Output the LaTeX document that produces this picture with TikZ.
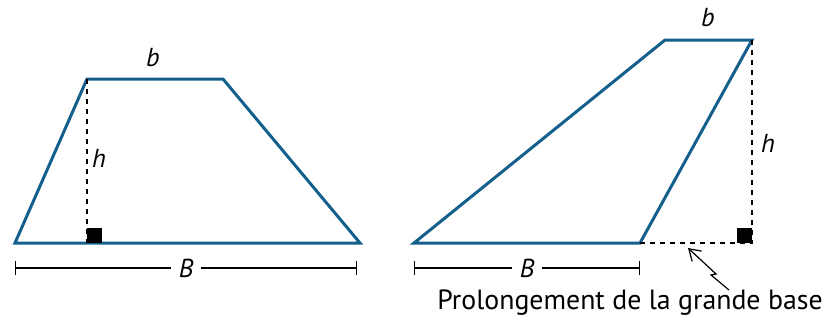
\documentclass[tikz,border=0pt]{standalone}
\usepackage{fontspec}
\setmainfont{PT Sans}
\usetikzlibrary{arrows.meta,positioning}
\definecolor{trapblue}{RGB}{20,95,140}

\begin{document}
\begin{tikzpicture}[
  x=0.5pt, y=-0.5pt,
  font=\fontsize{12.5}{15}\selectfont,
  trap/.style={draw=trapblue, line width=1.5pt, line join=miter},
  haut/.style={dash pattern=on 2.5pt off 2.5pt, line width=0.7pt},
  cote/.style={{Bar[width=7pt]}-{Bar[width=7pt]}, line width=0.6pt},
  angledroit/.style={fill=black},
  lbl/.style={font=\fontsize{13}{15}\selectfont\itshape},
  cotelbl/.style={lbl, fill=white, inner sep=4pt}
]
\useasboundingbox (0,0) rectangle (840,322);

% trapeze de gauche
\coordinate (A1) at (15,243);
\coordinate (B1) at (360,243);
\coordinate (C1) at (223,79);
\coordinate (D1) at (87,79);
\coordinate (H1) at (87,243);
\draw[trap] (A1) -- (B1) -- (C1) -- (D1) -- cycle;
\draw[haut] (D1) -- (H1);
\fill[angledroit] (87,228) rectangle (102,243);
\node[lbl] (b1) at (153,58) {b};
\node[lbl] (h1) at (99,158) {h};

% cote B gauche
\coordinate (G1) at (15,268);
\coordinate (E1) at (357,268);
\draw[cote] (G1) -- node[cotelbl] (Bl) {B} (E1);

% trapeze de droite
\coordinate (A2) at (414,243);
\coordinate (B2) at (640,243);
\coordinate (C2) at (752,40);
\coordinate (D2) at (665,40);
\coordinate (H2) at (752,243);
\draw[trap] (A2) -- (B2) -- (C2) -- (D2) -- cycle;
\draw[haut] (C2) -- (H2) -- (B2);
\fill[angledroit] (737,228) rectangle (752,243);
\node[lbl] (b2) at (708,18) {b};
\node[lbl] (h2) at (768,143) {h};

% cote B droite
\coordinate (G2) at (414,268);
\coordinate (E2) at (640,268);
\draw[cote] (G2) -- node[cotelbl] (Br) {B} (E2);

% prolongement
\node[font=\fontsize{13.9}{16}\selectfont] (prol) at (630,303) {Prolongement de la grande base};
\coordinate (pointe) at (688,248);
\coordinate (queue) at (729,290);
\draw[line width=0.6pt, -{Straight Barb[length=5.5pt,width=7pt]}] (queue) -- (711,275) -- (716,274) -- (pointe);

\end{tikzpicture}
\end{document}
